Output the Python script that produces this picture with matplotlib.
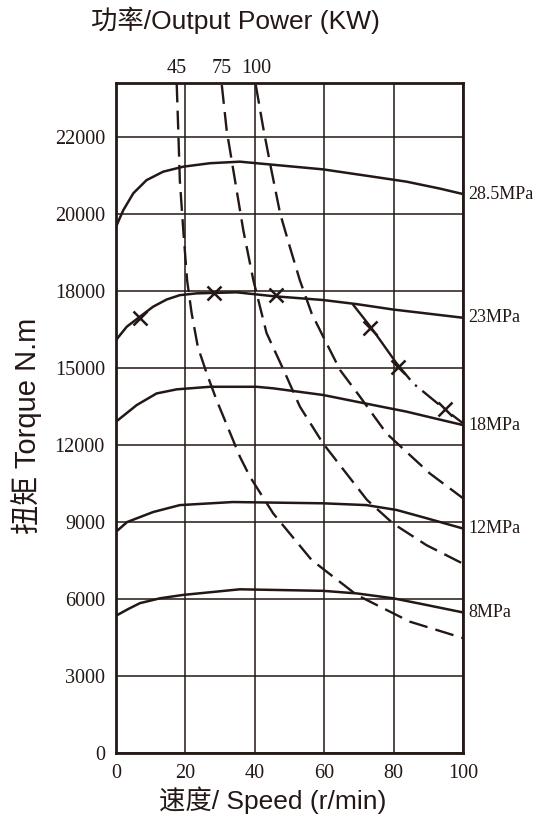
import numpy as np
import matplotlib
matplotlib.use('Agg')
import matplotlib.pyplot as plt

# torque axis is not linear: labels are evenly spaced
tick_vals = [0, 3000, 6000, 9000, 12000, 15000, 18000, 20000, 22000, 24000]
tick_labels = ['0', '3000', '6000', '9000', '12000', '15000', '18000', '20000', '22000']
speed_ticks = [0, 20, 40, 60, 80, 100]

# pressure curves (speed, torque)
p285_x = [0, 2.1, 5.0, 8.8, 13.6, 19.4, 27.1, 35.7, 45.3, 59.7, 74.1, 83.8, 93.4, 100]
p285_y = [19670, 20100, 20540, 20880, 21100, 21230, 21320, 21360, 21280, 21160,
          20970, 20840, 20660, 20520]
p23_x = [0, 3.1, 6.9, 10.7, 14.6, 18.4, 23.3, 34.8, 45.3, 59.7, 69.4, 79.9, 100]
p23_y = [16090, 16610, 17000, 17390, 17670, 17840, 17910, 17950, 17800, 17650,
         17490, 17280, 16960]
p18_x = [0, 6.0, 11.7, 17.5, 27.1, 40.5, 45.3, 59.7, 74.1, 83.8, 93.4, 100]
p18_y = [12910, 13560, 14010, 14170, 14270, 14270, 14210, 13950, 13560, 13300,
         12990, 12780]
p12_x = [0, 3.2, 10.7, 18.4, 33.7, 59.7, 72.2, 80.9, 89.5, 100]
p12_y = [8620, 9000, 9390, 9660, 9780, 9730, 9660, 9470, 9150, 8750]
p8_x = [0, 3.5, 6.9, 12.7, 19.3, 35.7, 59.7, 69.4, 79.9, 89.5, 100]
p8_y = [5350, 5610, 5840, 6030, 6160, 6380, 6320, 6220, 6030, 5770, 5480]
pressure_labels = ['28.5MPa', '23MPa', '18MPa', '12MPa', '8MPa']

# output power curves (dashed)
kw45_x = [17.5, 17.95, 18.4, 19.4, 20.5, 21.8, 23.6, 26.1, 29.0, 32.9, 35.7,
          38.6, 45.3, 56.4, 69.4, 84.7, 100]
kw45_y = [23390, 22180, 20880, 19580, 18280, 17140, 15820, 14810, 13750, 12470,
          11550, 10770, 9340, 7520, 6160, 5120, 4480]
kw75_x = [30.5, 31.9, 34.3, 36.7, 39.6, 43.4, 48.7, 53.0, 59.7, 72.3, 79.9, 89.5, 100]
kw75_y = [23350, 22180, 20880, 19580, 18280, 16365, 14810, 13500, 12060, 9870,
          8940, 8100, 7380]
kw100_x = [40.3, 42.4, 44.4, 47.3, 50.1, 53.0, 56.4, 59.7, 64.6, 70.3, 78.0, 90.5, 100]
kw100_y = [23350, 22260, 21320, 20020, 19150, 18280, 17130, 16230, 14920, 13890,
           12450, 10890, 9930]
power_labels = ['45', '75', '100']

# limit line with x marks
lim_x = [68.4, 73.7, 80.9, 85.7, 94.8, 100]
lim_y = [17460, 16550, 15180, 14400, 13390, 12850]
mark_x = [6.9, 28.2, 46.1, 73.2, 81.3, 94.8]
mark_y = [16950, 17920, 17850, 16560, 15040, 13400]

idx = np.arange(len(tick_vals))


def fwd(v):
    return np.interp(v, tick_vals, idx)


def inv(v):
    return np.interp(v, idx, tick_vals)


ink = '#231815'
serif = 'Liberation Serif'
plt.rcParams['font.family'] = ['Liberation Sans', 'Noto Sans CJK SC']

fig = plt.figure(figsize=(5.37, 8.15), dpi=100)
ax = fig.add_axes([0.216, 0.076, 0.646, 0.822])
ax.set_yscale('function', functions=(fwd, inv))

for xs, ys in [(p285_x, p285_y), (p23_x, p23_y), (p18_x, p18_y),
               (p12_x, p12_y), (p8_x, p8_y)]:
    ax.plot(xs, ys, color=ink, lw=1.8, solid_joinstyle='round')

for xs, ys in [(kw45_x, kw45_y), (kw75_x, kw75_y), (kw100_x, kw100_y)]:
    ax.plot(xs, ys, color=ink, lw=1.7, dashes=(8, 3.5))

ax.plot(lim_x[:3], lim_y[:3], color=ink, lw=1.7)
ax.plot(lim_x[2:], lim_y[2:], color=ink, lw=1.7, dashes=(9, 3, 1, 3))
ax.plot(mark_x, mark_y, ls='none', marker='x', ms=10, mew=1.8, color=ink)

ax.set_xlim(0, 100)
ax.set_ylim(0, 23400)
ax.set_xticks(speed_ticks)
ax.set_xticklabels([str(v) for v in speed_ticks], family=serif, fontsize=14.5)
ax.set_yticks(tick_vals[:-1])
ax.set_yticklabels(tick_labels, family=serif, fontsize=14.5)
ax.tick_params(length=0, pad=8, colors=ink)
ax.yaxis.set_minor_locator(matplotlib.ticker.NullLocator())
ax.grid(True, color=ink, lw=1.1)
for s in ax.spines.values():
    s.set_linewidth(2)
    s.set_color(ink)

# right-side pressure labels at curve ends
for lab, ys in zip(pressure_labels, [p285_y, p23_y, p18_y, p12_y, p8_y]):
    ax.annotate(lab, (100, ys[-1]), xytext=(4, 0), textcoords='offset points',
                va='center', ha='left', family=serif, fontsize=13,
                color=ink, annotation_clip=False)

for lab, xs in zip(power_labels, [kw45_x, kw75_x, kw100_x]):
    ax.annotate(lab, (xs[0], 23400), xytext=(0, 4), textcoords='offset points',
                va='bottom', ha='center', family=serif, fontsize=14.5,
                color=ink, annotation_clip=False)

fig.text(0.438, 0.975, '功率/Output Power (KW)', ha='center', va='center',
         fontsize=19, color=ink)
fig.text(0.507, 0.018, '速度/ Speed (r/min)', ha='center', va='center',
         fontsize=19, color=ink)
fig.text(0.05, 0.478, '扭矩 Torque N.m', rotation=90, ha='center', va='center',
         fontsize=21, color=ink)

fig.savefig('out.png', dpi=100)
